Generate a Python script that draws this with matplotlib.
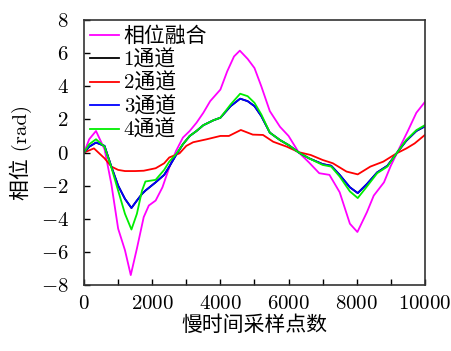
import matplotlib
matplotlib.use('Agg')
import matplotlib.pyplot as plt
from matplotlib.ticker import MultipleLocator

plt.rcParams['font.family'] = ['cmr10', 'Noto Sans CJK SC']
plt.rcParams['mathtext.fontset'] = 'cm'
plt.rcParams['axes.formatter.use_mathtext'] = True
plt.rcParams['axes.unicode_minus'] = True

# phase curves (x: slow-time sample index, y: rad)
x_fusion = [0, 150, 350, 600, 800, 1000, 1200, 1370, 1550, 1750, 1900, 2100, 2300, 2500,
            2700, 2900, 3100, 3300, 3500, 3700, 4000, 4200, 4400, 4570, 4800, 5000, 5200,
            5450, 5750, 6000, 6300, 6600, 6900, 7200, 7500, 7800, 8020, 8300, 8500, 8800,
            9000, 9200, 9500, 9750, 10000]
y_fusion = [0, 0.8, 1.3, 0.2, -1.9, -4.6, -5.9, -7.4, -5.8, -3.9, -3.2, -2.9, -2.1, -0.9,
            0.1, 0.9, 1.3, 1.8, 2.4, 3.1, 3.8, 4.9, 5.8, 6.15, 5.65, 5.1, 4.0,
            2.5, 1.55, 1.0, 0.0, -0.6, -1.25, -1.35, -2.4, -4.3, -4.8, -3.6, -2.6, -1.8,
            -0.8, 0.05, 1.3, 2.4, 3.05]

x_ch = [0, 150, 350, 600, 800, 1000, 1200, 1390, 1550, 1700, 1800, 1950, 2100, 2350, 2500,
        2700, 2900, 3100, 3300, 3500, 3800, 4000, 4300, 4580, 4800, 5000, 5200, 5450, 5750,
        6000, 6300, 6600, 7000, 7250, 7500, 7800, 8030, 8300, 8600, 8900, 9170, 9450, 9750,
        10000]
y_ch1 = [0, 0.35, 0.6, 0.4, -0.85, -2.0, -2.8, -3.35, -2.9, -2.5, -2.3, -2.05, -1.8, -1.35, -0.85,
         -0.15, 0.5, 1.0, 1.3, 1.65, 1.95, 2.1, 2.8, 3.25, 3.1, 2.8, 2.2, 1.2, 0.75,
         0.45, 0.0, -0.35, -0.7, -0.8, -1.35, -2.1, -2.45, -1.9, -1.2, -0.8, -0.05, 0.7, 1.3,
         1.58]
y_ch3 = [0, 0.35, 0.6, 0.4, -0.85, -2.0, -2.8, -3.35, -2.9, -2.5, -2.3, -2.05, -1.8, -1.35, -0.85,
         -0.15, 0.5, 1.0, 1.3, 1.65, 1.95, 2.1, 2.8, 3.25, 3.1, 2.8, 2.2, 1.2, 0.75,
         0.45, 0.0, -0.35, -0.7, -0.8, -1.35, -2.1, -2.45, -1.9, -1.2, -0.8, -0.05, 0.7, 1.3,
         1.58]
y_ch4 = [0, 0.5, 0.8, 0.35, -0.9, -2.3, -3.7, -4.65, -3.7, -2.3, -1.75, -1.7, -1.65, -1.05, -0.55,
         -0.1, 0.5, 1.0, 1.3, 1.65, 1.95, 2.1, 2.9, 3.55, 3.4, 3.0, 2.3, 1.2, 0.75,
         0.45, 0.0, -0.35, -0.75, -0.85, -1.45, -2.35, -2.75, -2.05, -1.25, -0.85, -0.05, 0.75, 1.35,
         1.65]

x_ch2 = [0, 290, 600, 800, 1000, 1200, 1500, 1750, 2100, 2350, 2500, 2800, 3000, 3200, 3600,
         4000, 4250, 4600, 4950, 5250, 5550, 5950, 6300, 6650, 7000, 7300, 7700, 8030, 8400,
         8780, 9170, 9460, 9700, 10000]
y_ch2 = [0, 0.25, -0.35, -0.85, -1.05, -1.12, -1.12, -1.1, -0.95, -0.65, -0.3, -0.05, 0.4, 0.62, 0.8,
         1.0, 1.0, 1.36, 1.08, 1.06, 0.65, 0.35, 0.02, -0.15, -0.45, -0.65, -1.15, -1.32, -0.85,
         -0.55, -0.05, 0.25, 0.55, 1.06]

labels = ['相位融合', '1通道', '2通道', '3通道', '4通道']

fig = plt.figure(figsize=(4.52, 3.51), dpi=100)
ax = fig.add_axes([0.186, 0.188, 0.754, 0.755])

lw = 1.3
ax.plot(x_fusion, y_fusion, color='#ff00ff', lw=lw, label=labels[0])
ax.plot(x_ch, y_ch1, color='black', lw=lw, label=labels[1])
ax.plot(x_ch2, y_ch2, color='#ff0000', lw=lw, label=labels[2])
ax.plot(x_ch, y_ch3, color='#0000ff', lw=lw, label=labels[3])
ax.plot(x_ch, y_ch4, color='#00ee00', lw=lw, label=labels[4])

ax.set_xlim(0, 10000)
ax.set_ylim(-8, 8)
ax.xaxis.set_major_locator(MultipleLocator(2000))
ax.xaxis.set_minor_locator(MultipleLocator(1000))
ax.yaxis.set_major_locator(MultipleLocator(2))
ax.tick_params(which='both', direction='in', length=4, width=1, labelsize=15,
               top=False, right=False)
ax.tick_params(axis='x', pad=7)
ax.tick_params(axis='y', pad=11)
for s in ax.spines.values():
    s.set_linewidth(1.2)
    s.set_color('#333333')

ax.set_xlabel('慢时间采样点数', fontsize=15, labelpad=2)
ax.set_ylabel('相位 (rad)', fontsize=15, labelpad=6)

ax.legend(loc='upper left', frameon=False, fontsize=15, handlelength=1.4,
          handletextpad=0.2, labelspacing=0.16, borderaxespad=0.1, borderpad=0.2)

fig.savefig('out.png', dpi=100)
